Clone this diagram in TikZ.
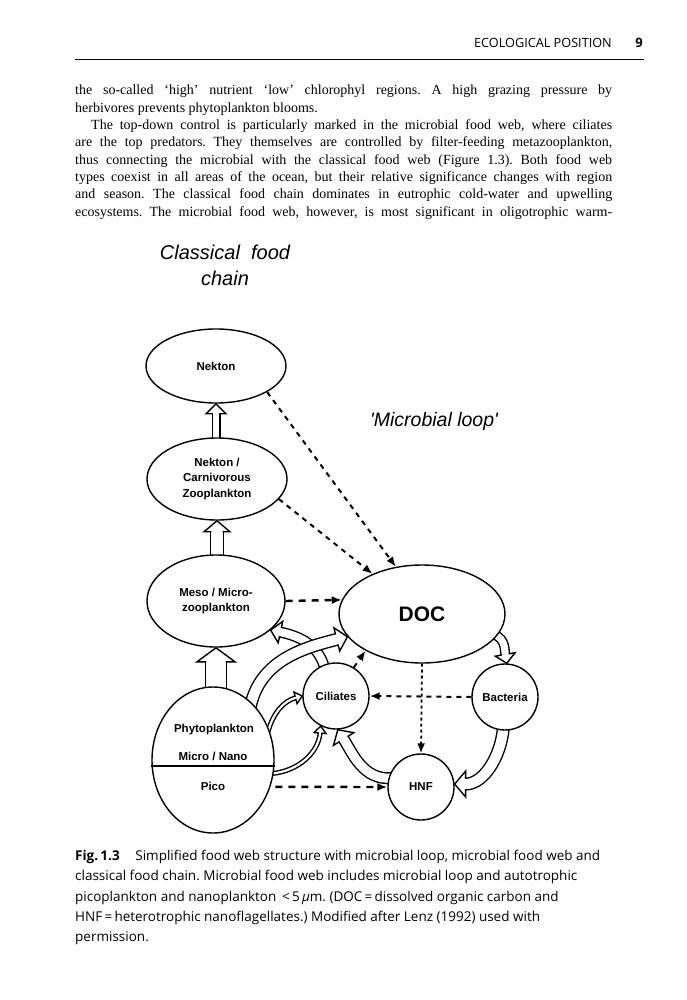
\documentclass[tikz,border=0pt]{standalone}
\usepackage{fontspec}
\setmainfont{Liberation Serif}
\newfontfamily\headfont{Open Sans}
\newfontfamily\figfont{Liberation Sans}
\usetikzlibrary{shapes.geometric,arrows.meta,decorations.markings,backgrounds,calc}
\frenchspacing

\begin{document}
\begin{tikzpicture}[x=1pt,y=1pt]
        \useasboundingbox (0,0) rectangle (687,-1000);

        \tikzstyle{oval}=[draw,ellipse,fill=white,line width=1.4pt,inner sep=0pt,align=center,
                          font=\figfont\bfseries\fontsize{11.5}{15.5}\selectfont]
        \tikzstyle{cell}=[draw,circle,fill=white,line width=1.4pt,minimum size=66pt,inner sep=0pt,
                          font=\figfont\bfseries\fontsize{11.5}{15.5}\selectfont]
        \tikzstyle{figtxt}=[inner sep=0pt,anchor=base,font=\figfont\bfseries\fontsize{11.5}{15.5}\selectfont]
        \tikzstyle{dashes}=[line width=2pt,dash pattern=on 5pt off 5pt,-{Latex[length=10pt,width=8pt]}]
        % hollow band arrow: band width / head width / head length
        \tikzset{hollow/.style n args={3}{draw,line width=#1,shorten >=#3,
            postaction={draw=white,line width=#1-2.8pt,shorten >=#3},
            postaction={decorate,decoration={markings,mark=at position 0.999 with {
                \fill[white,shorten >=0pt] (-#3,0.5*#2) -- (0,0) -- (-#3,-0.5*#2) -- cycle;
                \draw[black,line width=1.4pt,shorten >=0pt,line join=miter]
                    (-#3,0.5*#1-1.4pt) -- (-#3,0.5*#2) -- (0,0) -- (-#3,-0.5*#2) -- (-#3,-0.5*#1+1.4pt);}}}}}

        % page head
        \node[anchor=base east,inner sep=0pt,font=\headfont\fontsize{12.7}{14}\selectfont] (head) at (612,-47.5) {ECOLOGICAL POSITION};
        \node[anchor=base east,inner sep=0pt,font=\headfont\bfseries\fontsize{13}{14}\selectfont] (folio) at (643,-47.5) {9};
        \draw[line width=0.7pt] (75,-59) -- (644,-59);

        % base anchor of a multi-line node sits on its last line
        \node[anchor=base west,inner sep=0pt,align=left,font=\fontsize{14}{17.3}\selectfont] (body) at (75,-216.1) {%
            \makebox[537pt][s]{the so-called `high' nutrient `low' chlorophyl regions. A high grazing pressure by}\\
            herbivores prevents phytoplankton blooms.\\
            \makebox[537pt][s]{\hspace*{16pt}The top-down control is particularly marked in the microbial food web, where ciliates}\\
            \makebox[537pt][s]{are the top predators. They themselves are controlled by filter-feeding metazooplankton,}\\
            \makebox[537pt][s]{thus connecting the microbial with the classical food web (Figure 1.3). Both food web}\\
            \makebox[537pt][s]{types coexist in all areas of the ocean, but their relative significance changes with region}\\
            \makebox[537pt][s]{and season. The classical food chain dominates in eutrophic cold-water and upwelling}\\
            \makebox[537pt][s]{ecosystems. The microbial food web, however, is most significant in oligotrophic warm-}};

        % figure
        \node[inner sep=0pt,align=center,font=\figfont\itshape\fontsize{20}{26}\selectfont] (classic) at (225,-265) {Classical\ \ food\\chain};
        \node[inner sep=0pt,font=\figfont\itshape\fontsize{19.5}{24}\selectfont] (loop) at (434,-421) {\textquotesingle Microbial loop\textquotesingle};

        \node[oval,minimum width=140pt,minimum height=74pt] (nek) at (216,-366) {Nekton};
        \node[oval,minimum width=140pt,minimum height=82pt] (carn) at (217,-479) {Nekton /\\Carnivorous\\Zooplankton};
        \node[oval,minimum width=138pt,minimum height=92pt] (meso) at (216,-601) {Meso / Micro-\\zooplankton};
        \node[oval,minimum width=122pt,minimum height=146pt] (phyto) at (213,-760) {};
        \node[oval,minimum width=166pt,minimum height=98pt,font=\figfont\bfseries\fontsize{21}{25}\selectfont] (doc) at (422,-614) {DOC};
        \node[cell] (cil) at (336,-696) {Ciliates};
        \node[cell] (bac) at (505,-697) {Bacteria};
        \node[cell] (hnf) at (421,-787) {HNF};

        \node[figtxt] (phytoname) at (214,-732) {Phytoplankton};
        \node[figtxt] (micro) at (213,-760) {Micro / Nano};
        \node[figtxt] (pico) at (213,-790) {Pico};
        \draw[line width=1.4pt] ([yshift=-6pt]phyto.west) -- ([yshift=-6pt]phyto.east);

        \begin{scope}[on background layer]
        \draw[hollow={9pt}{20pt}{10pt}]  (nek.south |- carn.center) -- (nek.south);    % carn->nek
        \draw[hollow={14pt}{26pt}{11pt}] (carn.south |- meso.center) -- (carn.south);  % meso->carn
        \draw[hollow={22pt}{38pt}{14pt}] (meso.south |- phyto.center) -- (meso.south); % phyto->meso
        \draw[hollow={11pt}{22pt}{10pt}] ($(cil.112)!3pt!(cil.center)$) to[out=105,in=-12] (meso.-28);   % cil->meso
        \draw[hollow={13pt}{24pt}{11pt}] ($(phyto.55)!4pt!(phyto.center)$) to[out=78,in=194] (doc.197); % phyto->doc
        \draw[hollow={5pt}{12pt}{7pt}]   ($(phyto.27)!2pt!(phyto.center)$) to[out=75,in=195] (cil.west);  % micro->cil
        \draw[hollow={5pt}{12pt}{7pt}]   ($(phyto.-13)!2pt!(phyto.center)$) to[out=5,in=-95] (cil.243);   % pico->cil
        \draw[hollow={10pt}{20pt}{9pt}]  ($(doc.-16)!3pt!(doc.center)$) to[out=-20,in=100] (bac.87);     % doc->bac
        \draw[hollow={13pt}{26pt}{11pt}] ($(bac.-93)!3pt!(bac.center)$) to[out=-95,in=0] (hnf.5);        % bac->hnf
        \draw[hollow={12pt}{24pt}{11pt}] ($(hnf.163)!3pt!(hnf.center)$) to[out=185,in=-58] (cil.-87);    % hnf->cil

        \draw[dashes] (nek.-27) -- (doc.119);   % nek->doc
        \draw[dashes] (carn.-18) -- (doc.141);  % carn->doc
        \draw[dashes,line width=2.4pt,dash pattern=on 7pt off 6pt] (meso.east) -- (doc.170);          % meso->doc
        \draw[dashes,line width=2.4pt,dash pattern=on 7pt off 6pt,shorten <=5pt] (phyto.-25) -- (hnf.west); % pico->hnf
        \draw[dashes,line width=1.8pt,dash pattern=on 3pt off 3pt] (doc.south) -- (hnf.north);       % doc->hnf
        \draw[dashes] (bac.west) -- (cil.east); % bac->cil
        \draw[dashes] (cil.58) -- (doc.213);    % cil->doc
        \end{scope}

        \node[anchor=base west,inner sep=0pt,align=left,font=\headfont\fontsize{13.5}{20.3}\selectfont] (caption) at (75,-941.7) {%
            \textbf{Fig.\,1.3}\hspace{0.9em} Simplified food web structure with microbial loop, microbial food web and\\
            classical food chain. Microbial food web includes microbial loop and autotrophic\\
            picoplankton and nanoplankton \,<\,5\,{\itshape µ}m. (DOC\,=\,dissolved organic carbon and\\
            HNF\,=\,heterotrophic nanoflagellates.) Modified after Lenz (1992) used with\\
            permission.};
\end{tikzpicture}
\end{document}
